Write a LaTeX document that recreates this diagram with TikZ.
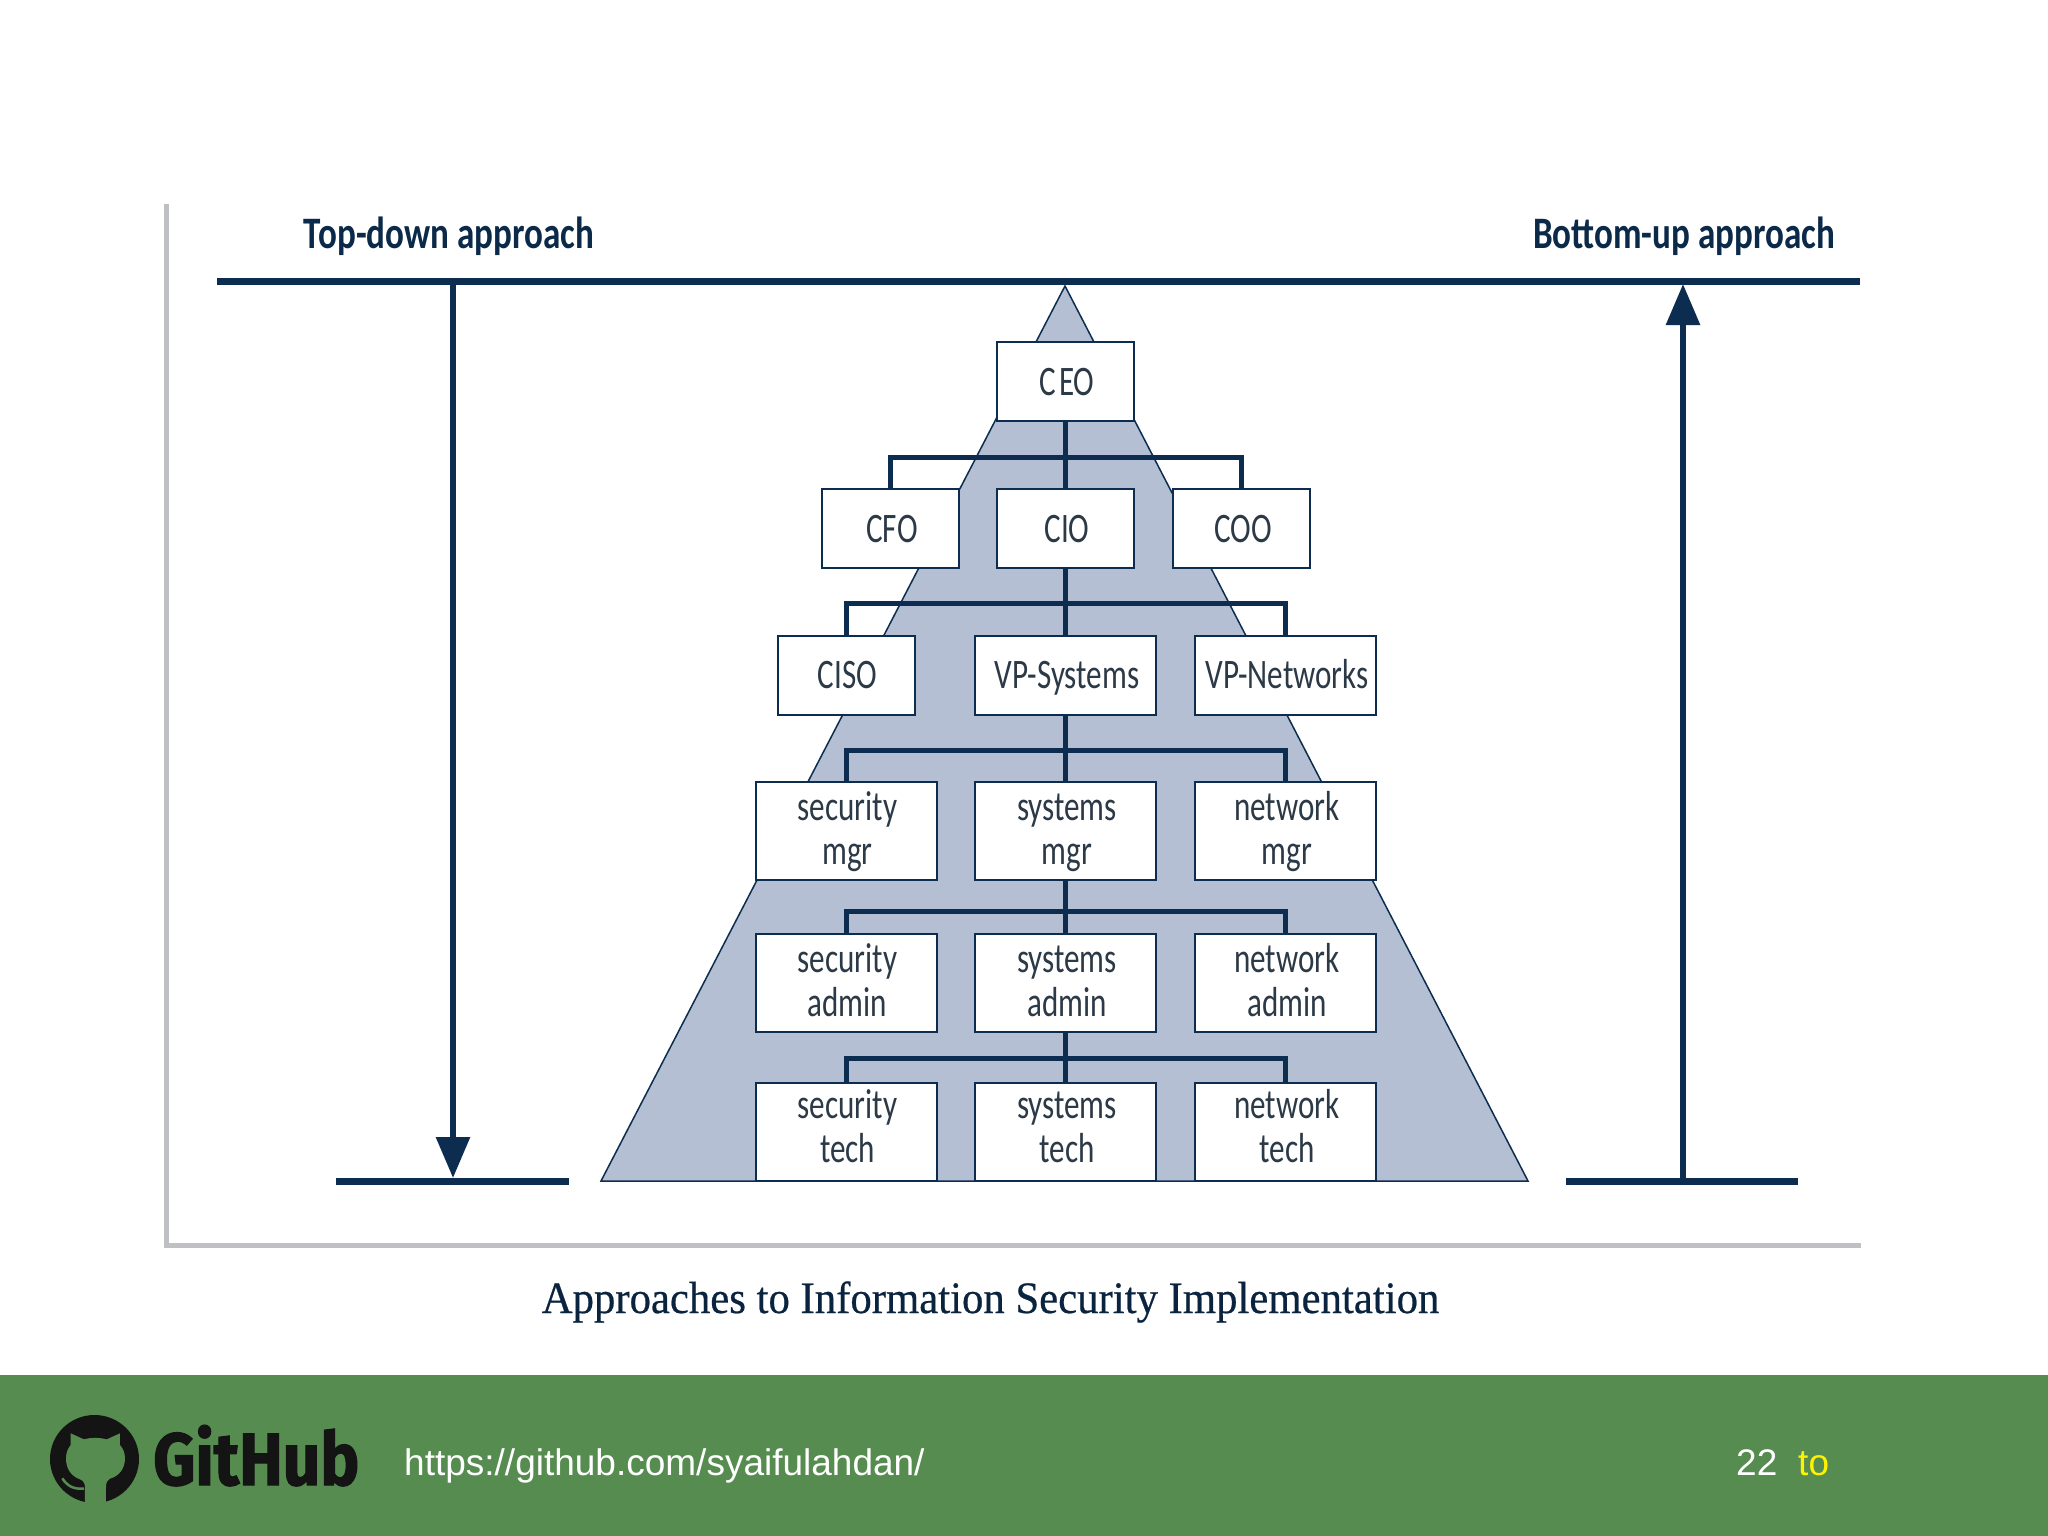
\documentclass[tikz,border=0pt]{standalone}
\usepackage{fontspec}
\usetikzlibrary{arrows.meta}
\setmainfont{Liberation Sans}
\newfontfamily\boxfont[FakeStretch=0.74]{Carlito}
\newfontfamily\labelfont[FakeStretch=0.78]{Carlito}
\newfontfamily\capfont[FakeStretch=0.95,FakeBold=0.5]{Liberation Serif}
\newfontfamily\hubfont[FakeBold=1.5,FakeStretch=0.885]{Fira Sans}
\definecolor{navy}{HTML}{0C2D50}
\definecolor{pyr}{HTML}{B4BFD3}
\definecolor{framegray}{HTML}{BEC0C4}
\definecolor{foot}{HTML}{568C4F}
\definecolor{boxtext}{HTML}{2C3946}
\definecolor{logoblack}{HTML}{141414}
\newcommand\oneline[1]{\hspace*{3pt}\rule[-13pt]{0pt}{53pt}#1}
\newcommand\twoline[3][11]{\hspace*{3pt}\rule[-#1pt]{0pt}{44pt}#2\\\hspace*{3pt}\rule[-#1pt]{0pt}{44pt}#3}
\tikzset{
  orgbox/.style={draw=navy,line width=2pt,fill=white,inner sep=0pt,outer sep=0pt,text=boxtext,align=center,
    font=\boxfont\fontsize{42}{44}\selectfont},
  small/.style={orgbox,minimum width=137pt,minimum height=79pt},
  wide/.style={orgbox,minimum width=181pt,minimum height=79pt},
  tall/.style={orgbox,minimum width=181pt,minimum height=98pt},
  bar/.style={draw=navy,line width=5pt},
  heavy/.style={draw=navy,line width=7pt},
  shaft/.style={draw=navy,line width=6pt,-{Triangle[length=41pt,width=33pt]}},
  framed/.style={draw=framegray,line width=5pt},
  toplabel/.style={anchor=base,inner sep=0pt,text=navy!90!black,font=\labelfont\bfseries\fontsize{45}{50}\selectfont},
  foottext/.style={anchor=base west,inner sep=0pt,font=\fontsize{37}{44}\selectfont},
}
\begin{document}
\begin{tikzpicture}[x=1pt,y=-1pt]
\useasboundingbox (0,0) rectangle (2048,1536);
\fill[white] (0,0) rectangle (2048,1536);
% frame
\draw[framed] (166.5,204) -- (166.5,1245.5) -- (1861,1245.5);
% pyramid
\filldraw[fill=pyr,draw=navy,line width=1.5pt] (1065,286) -- (1528,1181) -- (601,1181) -- cycle;
% organisation
\node[small] (ceo) at (1065.5,381.5) {\oneline{C\kern3pt EO}};
\node[small] (cfo) at (890.5,528.5) {\oneline{CFO}};
\node[small] (cio) at (1065.5,528.5) {\oneline{CIO}};
\node[small] (coo) at (1241.5,528.5) {\oneline{COO}};
\node[small] (ciso) at (846,675) {\oneline{CISO}};
\node[wide] (vps) at (1065.5,675) {\oneline{VP-Systems}};
\node[wide] (vpn) at (1285.5,675) {\oneline{VP-Networks}};
\node[tall] (secm) at (846,831) {\twoline{security}{mgr}};
\node[tall] (sysm) at (1065.5,831) {\twoline{systems}{mgr}};
\node[tall] (netm) at (1285.5,831) {\twoline{network}{mgr}};
\node[tall] (seca) at (846,983) {\twoline{security}{admin}};
\node[tall] (sysa) at (1065.5,983) {\twoline{systems}{admin}};
\node[tall] (neta) at (1285.5,983) {\twoline{network}{admin}};
\node[tall] (sect) at (846,1132) {\twoline[14]{security}{tech}};
\node[tall] (syst) at (1065.5,1132) {\twoline[14]{systems}{tech}};
\node[tall] (nett) at (1285.5,1132) {\twoline[14]{network}{tech}};
% connectors
\coordinate (b1) at (1065.5,457);
\coordinate (b2) at (1065.5,603);
\coordinate (b3) at (1065.5,750);
\coordinate (b4) at (1065.5,911);
\coordinate (b5) at (1065.5,1058);
\draw[bar] (ceo.south) -- (cio.north);
\draw[bar] (cfo.north) |- (b1) -| (coo.north);
\draw[bar] (cio.south) -- (vps.north);
\draw[bar] (ciso.north) |- (b2) -| (vpn.north);
\draw[bar] (vps.south) -- (sysm.north);
\draw[bar] (secm.north) |- (b3) -| (netm.north);
\draw[bar] (sysm.south) -- (sysa.north);
\draw[bar] (seca.north) |- (b4) -| (neta.north);
\draw[bar] (sysa.south) -- (syst.north);
\draw[bar] (sect.north) |- (b5) -| (nett.north);
% approach bars and arrows
\coordinate (tl) at (217,281.5);
\coordinate (tr) at (1860,281.5);
\coordinate (dtop) at (453,281.5);
\coordinate (dbot) at (453,1178);
\coordinate (utop) at (1683,284);
\coordinate (ubot) at (1683,1181);
\coordinate (ll) at (336,1181);
\coordinate (lr) at (568.5,1181);
\coordinate (rl) at (1566,1181);
\coordinate (rr) at (1798,1181);
\draw[heavy] (tl) -- (tr);
\draw[heavy] (ll) -- (lr);
\draw[heavy] (rl) -- (rr);
\draw[shaft] (dtop) -- (dbot);
\draw[shaft] (ubot) -- (utop);
% labels
\node[toplabel] (td) at (449,248) {Top-down approach};
\node[toplabel] (bu) at (1684,248) {Bottom-up approach};
\node[anchor=base,inner sep=0pt,text=navy!80!black,font=\capfont\fontsize{45}{50}\selectfont] (cap) at (990.5,1313) {Approaches to Information Security Implementation};
% footer
\fill[foot] (0,1375) rectangle (2048,1536);
\fill[logoblack] (94.5,1459) ellipse (44.5 and 44);
\begin{scope}[shift={(30,1400)},x=0.3333pt,y=-0.3333pt]
\fill[foot] (165,312) -- (165,262) .. controls (165,250) and (160,242) .. (150,238)
  .. controls (122,228) and (108,205) .. (108,175) .. controls (108,158) and (114,145) .. (122,135)
  -- (122,100) -- (162,118) .. controls (185,112) and (205,112) .. (230,118) -- (270,100) -- (270,135)
  .. controls (280,146) and (285,160) .. (285,175) .. controls (285,205) and (268,228) .. (240,236)
  .. controls (232,240) and (228,248) .. (228,262) -- (228,312) -- cycle;
\draw[foot,line width=2.5pt] (97,235) .. controls (112,258) and (130,268) .. (162,266);
\end{scope}
\node[anchor=base west,inner sep=0pt,text=logoblack,font=\hubfont\bfseries\fontsize{74}{80}\selectfont] (hub) at (153,1485) {GitHub};
\node[foottext,text=white] (url) at (404,1475) {https://github.com/syaifulahdan/};
\node[foottext,text=white] (pg) at (1736,1475) {22};
\node[foottext,text=yellow] (to) at (1798,1475) {to};
\end{tikzpicture}
\end{document}
